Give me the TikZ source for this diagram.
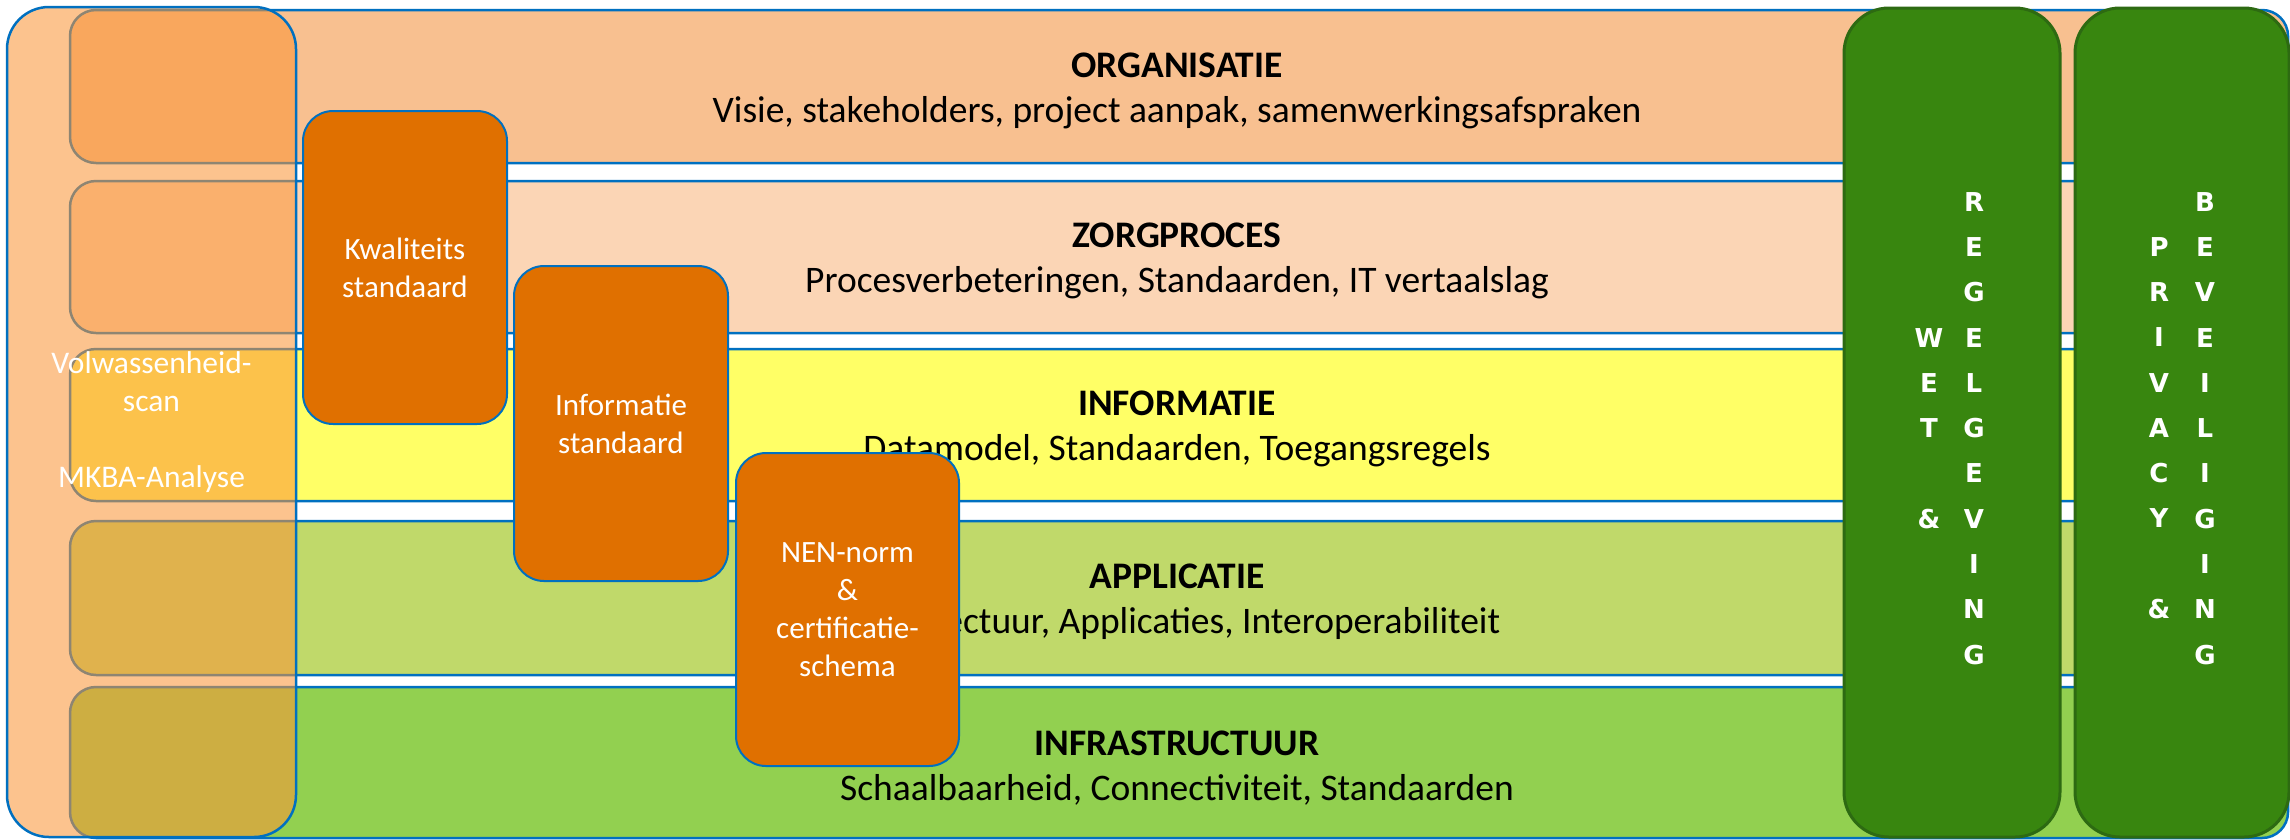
\documentclass[tikz,border=0pt]{standalone}
\usepackage{fontspec}
\setmainfont{Carlito}
\newfontfamily\vfont{DejaVu Sans}
\definecolor{bblue}{HTML}{0070C0}
\definecolor{bandA}{HTML}{F8C090}
\definecolor{bandB}{HTML}{FBD5B5}
\definecolor{bandC}{HTML}{FFFF66}
\definecolor{bandD}{HTML}{C0D96A}
\definecolor{bandE}{HTML}{92D050}
\definecolor{ovl}{HTML}{FA9538}
\definecolor{oboxc}{HTML}{E07000}
\definecolor{gfill}{HTML}{38860F}
\definecolor{gdraw}{HTML}{2D6A12}
\begin{document}
\begin{tikzpicture}[x=1pt,y=-1pt,
  band/.style={draw=bblue, line width=2.5pt, rounded corners=26pt, minimum width=2218pt, inner sep=0pt},
  ttl/.style={font=\fontsize{37.5}{44}\selectfont\bfseries, anchor=base},
  sub/.style={font=\fontsize{37.5}{44}\selectfont, anchor=base},
  obox/.style={draw=bblue, line width=2pt, fill=oboxc, rounded corners=30pt, text=white, align=center, font=\fontsize{31}{38}\selectfont, inner sep=0pt},
  gbox/.style={draw=gdraw, line width=3pt, fill=gfill, rounded corners=45pt, inner sep=0pt},
  vcol/.style={text=white, align=center, font=\vfont\bfseries\fontsize{26}{45.3}\selectfont, inner sep=0pt, anchor=north}]
\useasboundingbox (0,0) rectangle (2290,839);
% layers
\node[band, fill=bandA, minimum height=153pt] (org) at (1179,86.5) {};
\node[band, fill=bandB, minimum height=152pt] (zorg) at (1179,257) {};
\node[band, fill=bandC, minimum height=152pt] (info) at (1179,425) {};
\node[band, fill=bandD, minimum height=154pt] (app) at (1179,598) {};
\node[band, fill=bandE, minimum height=151pt] (infra) at (1179,762.5) {};
% layer texts
\node[ttl] (orgT) at (1177,77) {ORGANISATIE};
\node[sub] (orgS) at (1177,122) {Visie, stakeholders, project aanpak, samenwerkingsafspraken};
\node[ttl] (zorgT) at (1177,247) {ZORGPROCES};
\node[sub] (zorgS) at (1177,292) {Procesverbeteringen, Standaarden, IT vertaalslag};
\node[ttl] (infoT) at (1177,415) {INFORMATIE};
\node[sub] (infoS) at (1177,460) {Datamodel, Standaarden, Toegangsregels};
\node[ttl] (appT) at (1177,588) {APPLICATIE};
\node[sub] (appS) at (1177,633) {Architectuur, Applicaties, Interoperabiliteit};
\node[ttl] (infraT) at (1177,755) {INFRASTRUCTUUR};
\node[sub] (infraS) at (1177,800) {Schaalbaarheid, Connectiviteit, Standaarden};
% left overlay
\node[draw=bblue, line width=2.5pt, fill=ovl, fill opacity=0.57, text opacity=1, draw opacity=1,
  rounded corners=42pt, minimum width=289pt, minimum height=830pt, inner sep=0pt,
  text=white, align=center, font=\fontsize{31.5}{38}\selectfont] (scan) at (151.5,422)
  {Volwassenheid-\\scan\\[38pt]MKBA-Analyse};
% orange standard boxes
\node[obox, minimum width=204pt, minimum height=313pt] (kwal) at (405,267.5) {Kwaliteits\\standaard};
\node[obox, minimum width=214pt, minimum height=315pt] (infstd) at (621,423.5) {Informatie\\standaard};
\node[obox, minimum width=223pt, minimum height=313pt] (nen) at (847.5,609.5) {NEN-norm\\\&\\certificatie-\\schema};
% green boxes
\node[gbox, minimum width=216pt, minimum height=829pt] (wetbox) at (1952,422.5) {};
\node[gbox, minimum width=214pt, minimum height=829pt] (privbox) at (2182,422.5) {};
\node[vcol] (wet) at (1929,328) {W\\E\\T\\[45.3pt]\&};
\node[vcol] (regel) at (1974,192) {R\\E\\G\\E\\L\\G\\E\\V\\I\\N\\G};
\node[vcol] (priv) at (2159,237) {P\\R\\I\\V\\A\\C\\Y\\[45.3pt]\&};
\node[vcol] (bev) at (2205,192) {B\\E\\V\\E\\I\\L\\I\\G\\I\\N\\G};
\end{tikzpicture}
\end{document}
